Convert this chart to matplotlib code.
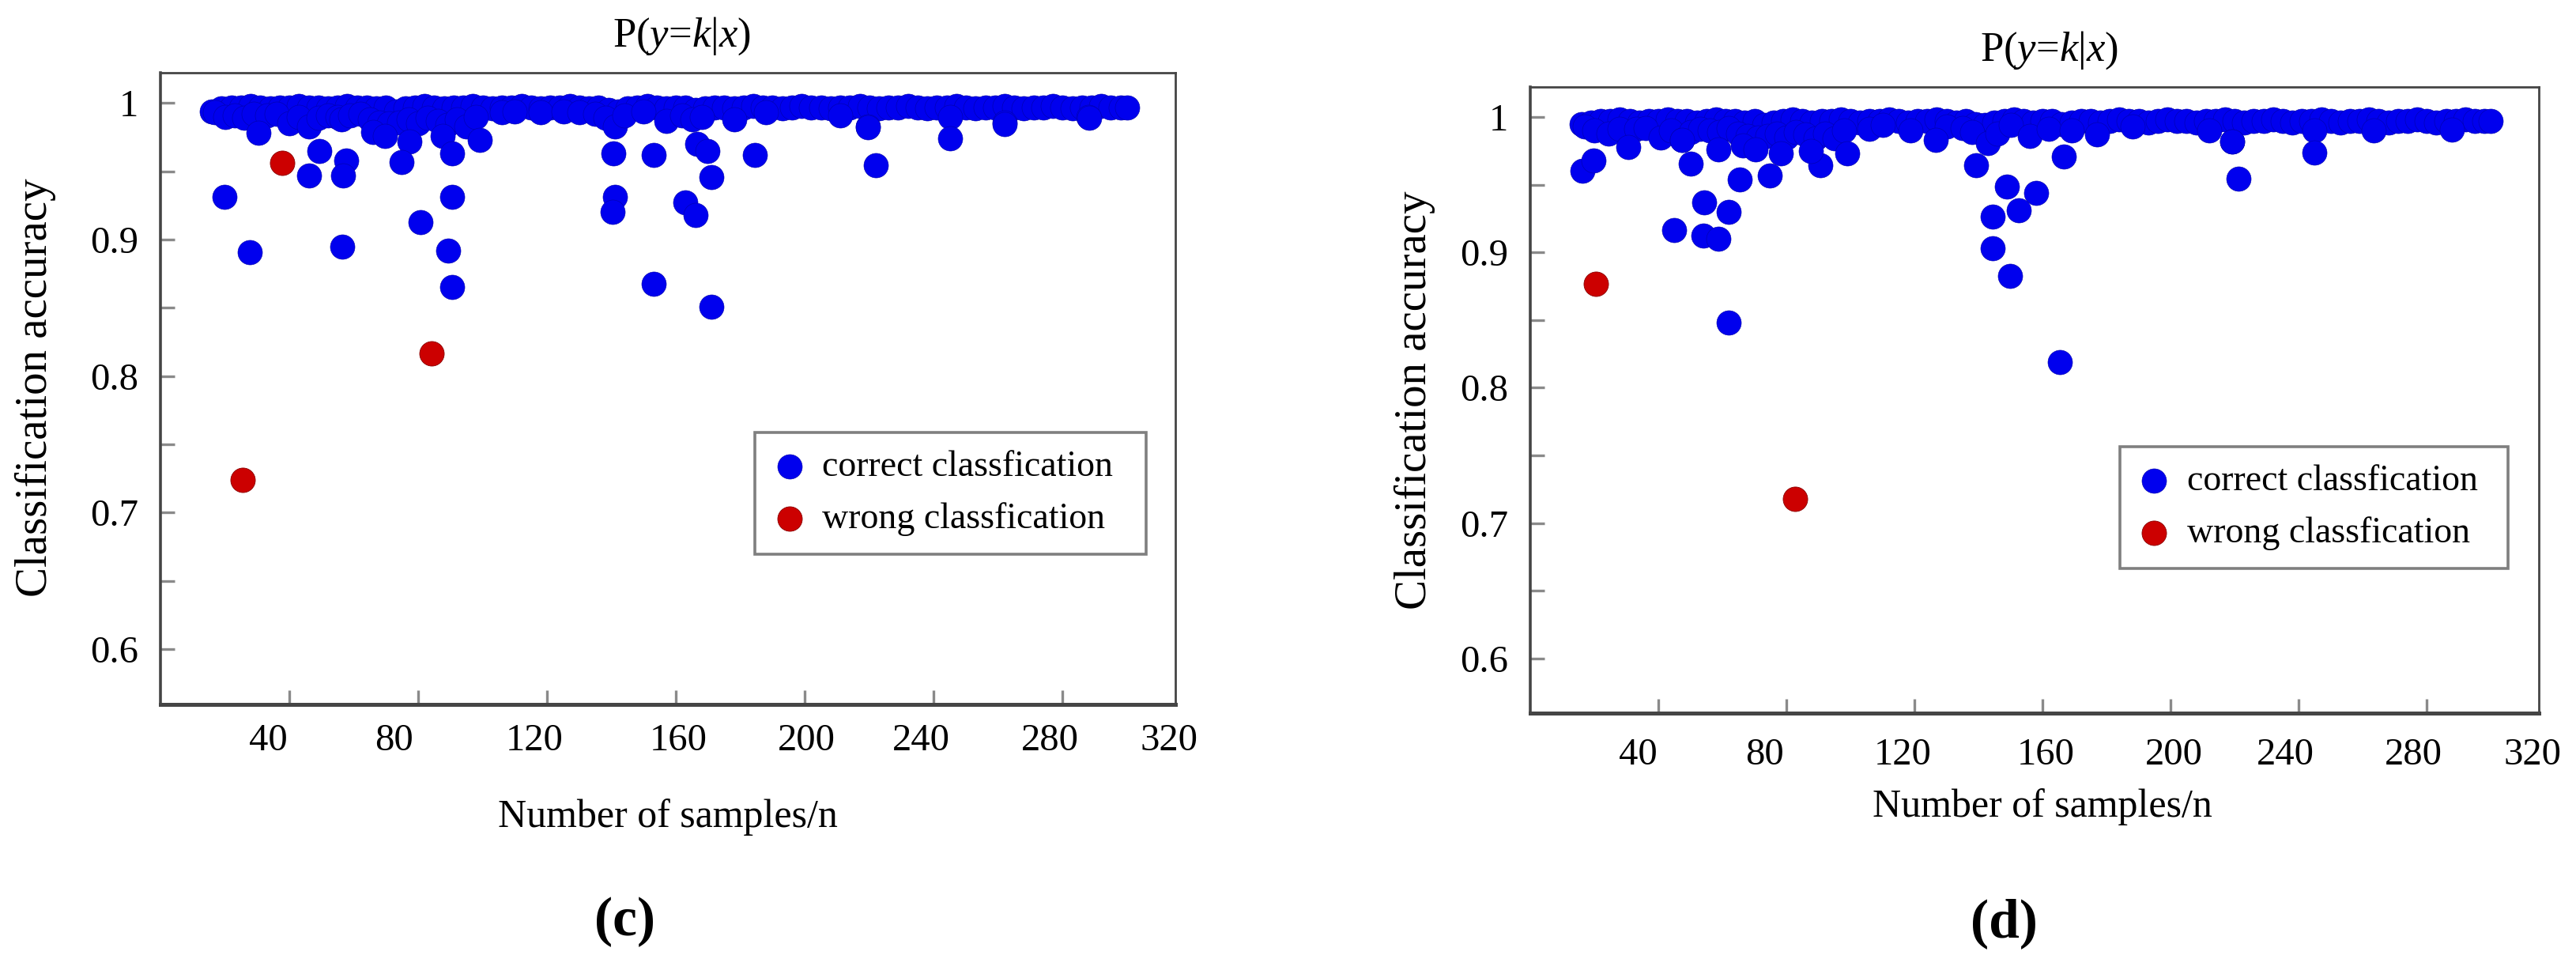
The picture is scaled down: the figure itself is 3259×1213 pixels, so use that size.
import matplotlib
matplotlib.use("Agg")
import matplotlib.pyplot as plt

plt.rcParams['font.family'] = ['Liberation Serif', 'DejaVu Serif']
plt.rcParams['mathtext.fontset'] = 'custom'
plt.rcParams['mathtext.rm'] = 'Liberation Serif'
plt.rcParams['mathtext.it'] = 'Liberation Serif:italic'

# ---------------- data ----------------
# panel (c): correctly classified samples, top of the dense band near 1.0
c_top_x = [16, 19, 22, 25, 28, 31, 34, 37, 40, 43, 46, 49, 52, 55, 58, 61, 64, 67, 70, 73,
           76, 79, 82, 85, 88, 91, 94, 97, 100, 103, 106, 109, 112, 115, 118, 121, 124, 127,
           130, 133, 136, 139, 142, 145, 148, 151, 154, 157, 160, 163, 166, 169, 172, 175,
           178, 181, 184, 187, 190, 193, 196, 199, 202, 205, 208, 211, 214, 217, 220, 223,
           226, 229, 232, 235, 238, 241, 244, 247, 250, 253, 256, 259, 262, 265, 268, 271,
           274, 277, 280, 283, 286, 289, 292, 295, 298, 300]
c_top_y = [0.994, 0.996, 0.997, 0.997, 0.998, 0.997, 0.996, 0.997, 0.997, 0.998, 0.997, 0.997,
           0.996, 0.997, 0.998, 0.997, 0.997, 0.996, 0.997, 0.994, 0.996, 0.997, 0.998, 0.997,
           0.996, 0.997, 0.997, 0.998, 0.997, 0.996, 0.997, 0.997, 0.998, 0.997, 0.996, 0.997,
           0.997, 0.998, 0.997, 0.996, 0.997, 0.995, 0.994, 0.996, 0.997, 0.998, 0.997, 0.996,
           0.997, 0.997, 0.995, 0.996, 0.997, 0.997, 0.996, 0.997, 0.998, 0.997, 0.997, 0.996,
           0.997, 0.998, 0.997, 0.997, 0.996, 0.997, 0.997, 0.998, 0.997, 0.996, 0.997, 0.997,
           0.998, 0.997, 0.996, 0.997, 0.997, 0.998, 0.997, 0.996, 0.997, 0.997, 0.998, 0.997,
           0.996, 0.997, 0.997, 0.998, 0.997, 0.996, 0.997, 0.997, 0.998, 0.997, 0.997, 0.997]
# lower points of the band
c_low_x = [17, 20, 23, 26, 29, 33, 36, 40, 43, 46, 49, 52, 55, 56.3, 59, 62, 65, 68, 71, 74,
           77, 80, 83, 86, 89, 92, 95, 98, 106, 110, 118, 125, 130, 135, 138, 141, 144, 150,
           157, 162, 165, 168, 178, 188, 211, 219.5, 245, 262, 288]
c_low_y = [0.993, 0.990, 0.991, 0.989, 0.992, 0.991, 0.992, 0.985, 0.990, 0.983, 0.989, 0.991,
           0.990, 0.988, 0.991, 0.992, 0.988, 0.986, 0.985, 0.986, 0.988, 0.985, 0.989, 0.987,
           0.984, 0.988, 0.983, 0.990, 0.993, 0.994, 0.993, 0.994, 0.993, 0.992, 0.989, 0.983,
           0.991, 0.994, 0.987, 0.991, 0.988, 0.990, 0.988, 0.993, 0.991, 0.983, 0.990, 0.986,
           0.990]
# isolated correct points
c_out_x = [19.8, 27.6, 30.4, 49.4, 46.2, 57.6, 56.6, 56.4, 66.0, 69.6, 77.4, 74.8, 80.7, 87.6,
           90.5, 90.5, 89.4, 90.5, 99.0, 140.5, 141.1, 140.3, 153.0, 153.2, 166.5, 169.8,
           171.0, 162.8, 166.1, 171.0, 184.5, 219.5, 221.9, 245.1, 261.9, 288.3]
c_out_y = [0.931, 0.891, 0.978, 0.965, 0.947, 0.958, 0.947, 0.895, 0.979, 0.976, 0.972, 0.957,
           0.913, 0.976, 0.963, 0.931, 0.892, 0.865, 0.973, 0.963, 0.9315, 0.920, 0.962, 0.8675,
           0.970, 0.965, 0.946, 0.927, 0.918, 0.8505, 0.962, 0.982, 0.9547, 0.974, 0.9846, 0.9894]
c_wrong_x = [37.8, 25.6, 84.2]
c_wrong_y = [0.956, 0.724, 0.8164]

# panel (d)
d_top_x = [16, 19, 22, 25, 28, 31, 34, 37, 40, 43, 46, 49, 52, 55, 58, 61, 64, 67, 70, 73,
           76, 79, 82, 85, 88, 91, 94, 97, 100, 103, 106, 109, 112, 115, 118, 121, 124, 127,
           130, 133, 136, 139, 142, 145, 148, 151, 154, 157, 160, 163, 166, 169, 172, 175,
           178, 181, 184, 187, 190, 193, 196, 199, 202, 205, 208, 211, 214, 217, 220, 223,
           226, 229, 232, 235, 238, 241, 244, 247, 250, 253, 256, 259, 262, 265, 268, 271,
           274, 277, 280, 283, 286, 289, 292, 295, 298, 300]
d_top_y = [0.9945, 0.996, 0.997, 0.997, 0.998, 0.997, 0.996, 0.997, 0.997, 0.998, 0.997, 0.997,
           0.996, 0.997, 0.998, 0.997, 0.997, 0.996, 0.997, 0.994, 0.996, 0.997, 0.998, 0.997,
           0.996, 0.997, 0.997, 0.998, 0.997, 0.996, 0.997, 0.997, 0.998, 0.997, 0.996, 0.997,
           0.997, 0.998, 0.997, 0.996, 0.997, 0.995, 0.994, 0.996, 0.997, 0.998, 0.997, 0.996,
           0.997, 0.997, 0.995, 0.996, 0.997, 0.997, 0.996, 0.997, 0.998, 0.997, 0.997, 0.996,
           0.997, 0.998, 0.997, 0.997, 0.996, 0.997, 0.997, 0.998, 0.997, 0.996, 0.997, 0.997,
           0.998, 0.997, 0.996, 0.997, 0.997, 0.998, 0.997, 0.996, 0.997, 0.997, 0.998, 0.997,
           0.996, 0.997, 0.997, 0.998, 0.997, 0.996, 0.997, 0.997, 0.998, 0.997, 0.997, 0.997]
d_low_x = [17, 20, 24.5, 28, 33, 36, 40.8, 44, 47.4, 50, 53, 56, 59, 62, 65, 68, 71, 74, 77,
           80, 83, 86, 89, 92, 95, 98, 106, 110, 118.8, 130, 135, 138, 143, 146, 150, 156.1,
           162, 169, 177, 188, 212, 219.3, 244.8, 263.5, 287.9]
d_low_y = [0.993, 0.990, 0.988, 0.991, 0.991, 0.992, 0.985, 0.990, 0.983, 0.989, 0.991, 0.990,
           0.989, 0.992, 0.988, 0.986, 0.985, 0.986, 0.988, 0.985, 0.989, 0.987, 0.984, 0.988,
           0.984, 0.990, 0.991, 0.994, 0.990, 0.993, 0.992, 0.989, 0.981, 0.988, 0.994, 0.986,
           0.991, 0.990, 0.987, 0.993, 0.990, 0.982, 0.990, 0.990, 0.9907]
d_out_x = [16.3, 19.7, 30.6, 47.4, 50.1, 44.9, 54.4, 61.9, 54.0, 58.7, 61.9, 58.7, 65.3, 74.9,
           66.3, 70.4, 78.2, 90.5, 87.6, 99.1, 126.7, 139.3, 148.9, 158.1, 152.5, 144.3, 144.3,
           149.9, 165.5, 166.6, 219.3, 221.2, 244.8]
d_out_y = [0.9605, 0.968, 0.978, 0.983, 0.9654, 0.9167, 0.937, 0.930, 0.9123, 0.910, 0.848,
           0.976, 0.954, 0.957, 0.979, 0.976, 0.973, 0.9644, 0.975, 0.973, 0.983, 0.9644, 0.9488,
           0.944, 0.931, 0.9265, 0.9031, 0.8827, 0.8189, 0.9706, 0.982, 0.9547, 0.974]
d_wrong_x = [20.6, 82.7]
d_wrong_y = [0.8765, 0.7177]

x_tick_marks = [40, 80, 120, 160, 200, 240, 280]
x_tick_labels = ['40', '80', '120', '160', '200', '240', '280', '320']
y_major = [0.6, 0.7, 0.8, 0.9, 1.0]
y_labels = ['0.6', '0.7', '0.8', '0.9', '1']
y_minor = [0.65, 0.75, 0.85, 0.95]
legend_labels = ['correct classfication', 'wrong classfication']

# label positions (the original labels sit slightly off their tick marks)
c_label_pos = [33.4, 72.6, 116, 160.8, 200.5, 236, 276, 313]
d_label_pos = [33.6, 73.3, 116.2, 161.1, 201, 235.9, 275.8, 313]

# ---------------- figure ----------------
W, H, DPI = 3259, 1213, 100
fig = plt.figure(figsize=(W / DPI, H / DPI), dpi=DPI)


def px_rect(l, t, r, b):
    return [l / W, 1 - b / H, (r - l) / W, (b - t) / H]


BLUE, BLUE_E = '#0000EE', '#0000a8'
RED, RED_E = '#CC0000', '#8a0000'
S = 500


def draw(ax, tx, ty, lx, ly, ox, oy, wx, wy, label_pos, xpad, leg_box):
    xs = list(tx) + list(lx) + list(ox)
    ys = list(ty) + list(ly) + list(oy)
    ax.scatter(xs, ys, s=S, c=BLUE, edgecolors=BLUE_E, linewidths=0.4,
               label=legend_labels[0], zorder=3)
    ax.scatter(wx, wy, s=S, c=RED, edgecolors=RED_E, linewidths=0.6,
               label=legend_labels[1], zorder=4)
    ax.set_xlim(0, 315)
    ax.set_ylim(0.5595, 1.0222)
    ax.set_xticks(x_tick_marks)
    ax.set_xticks(label_pos, x_tick_labels, minor=True)
    ax.tick_params(axis='x', which='major', direction='in', length=13, width=2.4,
                   color='#8a8a8a', labelbottom=False)
    ax.tick_params(axis='x', which='minor', length=0, labelsize=35, pad=xpad)
    ax.set_yticks(y_major, y_labels)
    ax.set_yticks(y_minor, minor=True)
    ax.tick_params(axis='y', which='both', direction='in', length=13, width=2.4,
                   color='#8a8a8a', labelsize=35, pad=20)
    for side, lw in (('left', 2.6), ('bottom', 3.6), ('top', 2.0), ('right', 2.0)):
        ax.spines[side].set_linewidth(lw)
        ax.spines[side].set_color('#454545')
    leg = ax.legend(loc='upper left', bbox_to_anchor=leg_box, mode='expand',
                    borderaxespad=0, fontsize=33, frameon=True, fancybox=False,
                    edgecolor='#7f7f7f', framealpha=1, scatterpoints=1,
                    handlelength=0.9, handletextpad=0.45, borderpad=0.5,
                    labelspacing=0.5)
    leg.get_frame().set_linewidth(2.6)


ax_c = fig.add_axes(px_rect(203, 92, 1487, 891))
ax_d = fig.add_axes(px_rect(1936, 110, 3212, 902))

draw(ax_c, c_top_x, c_top_y, c_low_x, c_low_y, c_out_x, c_out_y, c_wrong_x, c_wrong_y,
     c_label_pos, 17, (0.5857, 0.0, 0.3855, 0.4305))
draw(ax_d, d_top_x, d_top_y, d_low_x, d_low_y, d_out_x, d_out_y, d_wrong_x, d_wrong_y,
     d_label_pos, 22, (0.5846, 0.0, 0.3848, 0.4255))


def ftxt(x, y, s, **kw):
    fig.text(x / W, 1 - y / H, s, **kw)


title = r'P($y$=$k$|$x$)'
ftxt(862, 46, title, ha='center', va='center', fontsize=38)
ftxt(2592, 64, title, ha='center', va='center', fontsize=38)
ftxt(45, 490, 'Classification accuracy', rotation=90, ha='center', va='center', fontsize=41)
ftxt(1790, 506, 'Classification accuracy', rotation=90, ha='center', va='center', fontsize=41)
ftxt(845, 1034, 'Number of samples/n', ha='center', va='center', fontsize=36)
ftxt(2584, 1021, 'Number of samples/n', ha='center', va='center', fontsize=36)
ftxt(790, 1166, '(c)', ha='center', va='center', fontsize=50, fontweight='bold')
ftxt(2535, 1168, '(d)', ha='center', va='center', fontsize=50, fontweight='bold')

fig.savefig('out.png', dpi=DPI, facecolor='white')
